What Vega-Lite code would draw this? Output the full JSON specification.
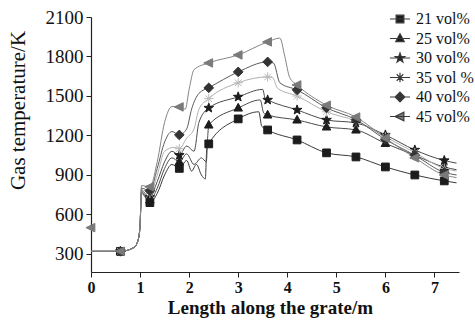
{
  "$schema": "https://vega.github.io/schema/vega-lite/v6.json",
  "autosize": {"type": "none"},
  "width": 368,
  "height": 255,
  "padding": {"left": 91, "top": 17, "right": 16, "bottom": 52},
  "background": "white",
  "config": {
    "view": {"stroke": null},
    "font": "Liberation Serif",
    "axis": {"domainColor": "#222", "tickColor": "#222", "grid": false, "labelColor": "#111", "titleColor": "#111", "labelFont": "Liberation Serif", "titleFont": "Liberation Serif", "domainWidth": 1.2}
  },
  "datasets": {
    "curves": [
      {"s": "21 vol%", "x": 0, "t": 320}, {"s": "21 vol%", "x": 0.6, "t": 320}, {"s": "21 vol%", "x": 0.88, "t": 350}, {"s": "21 vol%", "x": 0.97, "t": 420}, {"s": "21 vol%", "x": 1.0, "t": 520}, {"s": "21 vol%", "x": 1.03, "t": 760},
      {"s": "21 vol%", "x": 1.2, "t": 690}, {"s": "21 vol%", "x": 1.35, "t": 760}, {"s": "21 vol%", "x": 1.5, "t": 900}, {"s": "21 vol%", "x": 1.65, "t": 980}, {"s": "21 vol%", "x": 1.8, "t": 950}, {"s": "21 vol%", "x": 1.95, "t": 1010}, {"s": "21 vol%", "x": 2.05, "t": 930}, {"s": "21 vol%", "x": 2.15, "t": 980}, {"s": "21 vol%", "x": 2.25, "t": 900}, {"s": "21 vol%", "x": 2.33, "t": 870}, {"s": "21 vol%", "x": 2.36, "t": 1100}, {"s": "21 vol%", "x": 2.4, "t": 1136}, {"s": "21 vol%", "x": 3.0, "t": 1326}, {"s": "21 vol%", "x": 3.42, "t": 1380}, {"s": "21 vol%", "x": 3.48, "t": 1270}, {"s": "21 vol%", "x": 3.6, "t": 1242}, {"s": "21 vol%", "x": 4.2, "t": 1166}, {"s": "21 vol%", "x": 4.8, "t": 1068}, {"s": "21 vol%", "x": 5.4, "t": 1037}, {"s": "21 vol%", "x": 6.0, "t": 961}, {"s": "21 vol%", "x": 6.6, "t": 900}, {"s": "21 vol%", "x": 7.2, "t": 855}, {"s": "21 vol%", "x": 7.45, "t": 840},

      {"s": "25 vol%", "x": 0, "t": 320}, {"s": "25 vol%", "x": 0.6, "t": 320}, {"s": "25 vol%", "x": 0.88, "t": 350}, {"s": "25 vol%", "x": 0.97, "t": 420}, {"s": "25 vol%", "x": 1.0, "t": 520}, {"s": "25 vol%", "x": 1.03, "t": 770},
      {"s": "25 vol%", "x": 1.2, "t": 710}, {"s": "25 vol%", "x": 1.35, "t": 800}, {"s": "25 vol%", "x": 1.5, "t": 950}, {"s": "25 vol%", "x": 1.65, "t": 1030}, {"s": "25 vol%", "x": 1.8, "t": 1000}, {"s": "25 vol%", "x": 1.95, "t": 1060}, {"s": "25 vol%", "x": 2.1, "t": 980}, {"s": "25 vol%", "x": 2.25, "t": 1030}, {"s": "25 vol%", "x": 2.35, "t": 1000}, {"s": "25 vol%", "x": 2.38, "t": 1200}, {"s": "25 vol%", "x": 2.4, "t": 1280}, {"s": "25 vol%", "x": 3.0, "t": 1409}, {"s": "25 vol%", "x": 3.45, "t": 1470}, {"s": "25 vol%", "x": 3.52, "t": 1370}, {"s": "25 vol%", "x": 3.6, "t": 1356}, {"s": "25 vol%", "x": 4.2, "t": 1318}, {"s": "25 vol%", "x": 4.8, "t": 1265}, {"s": "25 vol%", "x": 5.4, "t": 1242}, {"s": "25 vol%", "x": 6.0, "t": 1140}, {"s": "25 vol%", "x": 6.6, "t": 1050}, {"s": "25 vol%", "x": 7.2, "t": 960}, {"s": "25 vol%", "x": 7.45, "t": 940},

      {"s": "30 vol%", "x": 0, "t": 320}, {"s": "30 vol%", "x": 0.6, "t": 320}, {"s": "30 vol%", "x": 0.88, "t": 350}, {"s": "30 vol%", "x": 0.97, "t": 420}, {"s": "30 vol%", "x": 1.0, "t": 520}, {"s": "30 vol%", "x": 1.03, "t": 780},
      {"s": "30 vol%", "x": 1.2, "t": 730}, {"s": "30 vol%", "x": 1.35, "t": 850}, {"s": "30 vol%", "x": 1.5, "t": 1000}, {"s": "30 vol%", "x": 1.65, "t": 1080}, {"s": "30 vol%", "x": 1.8, "t": 1050}, {"s": "30 vol%", "x": 1.95, "t": 1120}, {"s": "30 vol%", "x": 2.1, "t": 1080}, {"s": "30 vol%", "x": 2.2, "t": 1300}, {"s": "30 vol%", "x": 2.4, "t": 1409}, {"s": "30 vol%", "x": 3.0, "t": 1493}, {"s": "30 vol%", "x": 3.5, "t": 1550}, {"s": "30 vol%", "x": 3.55, "t": 1480}, {"s": "30 vol%", "x": 3.6, "t": 1470}, {"s": "30 vol%", "x": 4.2, "t": 1394}, {"s": "30 vol%", "x": 4.8, "t": 1318}, {"s": "30 vol%", "x": 5.4, "t": 1295}, {"s": "30 vol%", "x": 6.0, "t": 1204}, {"s": "30 vol%", "x": 6.6, "t": 1090}, {"s": "30 vol%", "x": 7.2, "t": 1010}, {"s": "30 vol%", "x": 7.45, "t": 990},

      {"s": "35 vol %", "x": 0, "t": 320}, {"s": "35 vol %", "x": 0.6, "t": 320}, {"s": "35 vol %", "x": 0.88, "t": 350}, {"s": "35 vol %", "x": 0.97, "t": 420}, {"s": "35 vol %", "x": 1.0, "t": 520}, {"s": "35 vol %", "x": 1.03, "t": 790},
      {"s": "35 vol %", "x": 1.2, "t": 760}, {"s": "35 vol %", "x": 1.35, "t": 900}, {"s": "35 vol %", "x": 1.5, "t": 1080}, {"s": "35 vol %", "x": 1.7, "t": 1110}, {"s": "35 vol %", "x": 1.8, "t": 1100}, {"s": "35 vol %", "x": 1.95, "t": 1180}, {"s": "35 vol %", "x": 2.1, "t": 1250}, {"s": "35 vol %", "x": 2.2, "t": 1400}, {"s": "35 vol %", "x": 2.4, "t": 1480}, {"s": "35 vol %", "x": 3.0, "t": 1600}, {"s": "35 vol %", "x": 3.6, "t": 1645}, {"s": "35 vol %", "x": 3.7, "t": 1640}, {"s": "35 vol %", "x": 3.8, "t": 1560}, {"s": "35 vol %", "x": 4.2, "t": 1500}, {"s": "35 vol %", "x": 4.8, "t": 1380}, {"s": "35 vol %", "x": 5.4, "t": 1310}, {"s": "35 vol %", "x": 6.0, "t": 1190}, {"s": "35 vol %", "x": 6.6, "t": 1070}, {"s": "35 vol %", "x": 7.2, "t": 950}, {"s": "35 vol %", "x": 7.45, "t": 930},

      {"s": "40 vol%", "x": 0, "t": 320}, {"s": "40 vol%", "x": 0.6, "t": 320}, {"s": "40 vol%", "x": 0.88, "t": 350}, {"s": "40 vol%", "x": 0.97, "t": 420}, {"s": "40 vol%", "x": 1.0, "t": 520}, {"s": "40 vol%", "x": 1.03, "t": 800},
      {"s": "40 vol%", "x": 1.2, "t": 780}, {"s": "40 vol%", "x": 1.35, "t": 950}, {"s": "40 vol%", "x": 1.5, "t": 1150}, {"s": "40 vol%", "x": 1.65, "t": 1230}, {"s": "40 vol%", "x": 1.8, "t": 1204}, {"s": "40 vol%", "x": 1.95, "t": 1250}, {"s": "40 vol%", "x": 2.05, "t": 1400}, {"s": "40 vol%", "x": 2.2, "t": 1520}, {"s": "40 vol%", "x": 2.4, "t": 1562}, {"s": "40 vol%", "x": 3.0, "t": 1683}, {"s": "40 vol%", "x": 3.6, "t": 1759}, {"s": "40 vol%", "x": 3.72, "t": 1750}, {"s": "40 vol%", "x": 3.85, "t": 1600}, {"s": "40 vol%", "x": 4.2, "t": 1546}, {"s": "40 vol%", "x": 4.8, "t": 1410}, {"s": "40 vol%", "x": 5.4, "t": 1320}, {"s": "40 vol%", "x": 6.0, "t": 1170}, {"s": "40 vol%", "x": 6.6, "t": 1050}, {"s": "40 vol%", "x": 7.2, "t": 920}, {"s": "40 vol%", "x": 7.45, "t": 900},

      {"s": "45 vol%", "x": 0, "t": 320}, {"s": "45 vol%", "x": 0.6, "t": 320}, {"s": "45 vol%", "x": 0.88, "t": 350}, {"s": "45 vol%", "x": 0.97, "t": 420}, {"s": "45 vol%", "x": 1.0, "t": 520}, {"s": "45 vol%", "x": 1.03, "t": 820},
      {"s": "45 vol%", "x": 1.2, "t": 810}, {"s": "45 vol%", "x": 1.35, "t": 1000}, {"s": "45 vol%", "x": 1.5, "t": 1300}, {"s": "45 vol%", "x": 1.65, "t": 1420}, {"s": "45 vol%", "x": 1.8, "t": 1417}, {"s": "45 vol%", "x": 1.92, "t": 1400}, {"s": "45 vol%", "x": 2.0, "t": 1550}, {"s": "45 vol%", "x": 2.1, "t": 1700}, {"s": "45 vol%", "x": 2.4, "t": 1751}, {"s": "45 vol%", "x": 3.0, "t": 1812}, {"s": "45 vol%", "x": 3.6, "t": 1911}, {"s": "45 vol%", "x": 3.85, "t": 1940}, {"s": "45 vol%", "x": 3.95, "t": 1800}, {"s": "45 vol%", "x": 4.05, "t": 1640}, {"s": "45 vol%", "x": 4.2, "t": 1584}, {"s": "45 vol%", "x": 4.8, "t": 1430}, {"s": "45 vol%", "x": 5.4, "t": 1340}, {"s": "45 vol%", "x": 6.0, "t": 1180}, {"s": "45 vol%", "x": 6.6, "t": 1030}, {"s": "45 vol%", "x": 7.2, "t": 900}, {"s": "45 vol%", "x": 7.45, "t": 880}
    ],
    "markers": [
      {"s": "21 vol%", "x": 0.6, "t": 320}, {"s": "21 vol%", "x": 1.2, "t": 690}, {"s": "21 vol%", "x": 1.8, "t": 950}, {"s": "21 vol%", "x": 2.4, "t": 1136}, {"s": "21 vol%", "x": 3.0, "t": 1326}, {"s": "21 vol%", "x": 3.6, "t": 1242}, {"s": "21 vol%", "x": 4.2, "t": 1166}, {"s": "21 vol%", "x": 4.8, "t": 1068}, {"s": "21 vol%", "x": 5.4, "t": 1037}, {"s": "21 vol%", "x": 6.0, "t": 961}, {"s": "21 vol%", "x": 6.6, "t": 900}, {"s": "21 vol%", "x": 7.2, "t": 855},
      {"s": "25 vol%", "x": 0.6, "t": 320}, {"s": "25 vol%", "x": 1.2, "t": 710}, {"s": "25 vol%", "x": 1.8, "t": 1000}, {"s": "25 vol%", "x": 2.4, "t": 1280}, {"s": "25 vol%", "x": 3.0, "t": 1409}, {"s": "25 vol%", "x": 3.6, "t": 1356}, {"s": "25 vol%", "x": 4.2, "t": 1318}, {"s": "25 vol%", "x": 4.8, "t": 1265}, {"s": "25 vol%", "x": 5.4, "t": 1242}, {"s": "25 vol%", "x": 6.0, "t": 1140}, {"s": "25 vol%", "x": 6.6, "t": 1050}, {"s": "25 vol%", "x": 7.2, "t": 960},
      {"s": "30 vol%", "x": 0.6, "t": 320}, {"s": "30 vol%", "x": 1.2, "t": 730}, {"s": "30 vol%", "x": 1.8, "t": 1050}, {"s": "30 vol%", "x": 2.4, "t": 1409}, {"s": "30 vol%", "x": 3.0, "t": 1493}, {"s": "30 vol%", "x": 3.6, "t": 1470}, {"s": "30 vol%", "x": 4.2, "t": 1394}, {"s": "30 vol%", "x": 4.8, "t": 1318}, {"s": "30 vol%", "x": 5.4, "t": 1295}, {"s": "30 vol%", "x": 6.0, "t": 1204}, {"s": "30 vol%", "x": 6.6, "t": 1090}, {"s": "30 vol%", "x": 7.2, "t": 1010},
      {"s": "35 vol %", "x": 0.6, "t": 320}, {"s": "35 vol %", "x": 1.2, "t": 760}, {"s": "35 vol %", "x": 1.8, "t": 1100}, {"s": "35 vol %", "x": 2.4, "t": 1480}, {"s": "35 vol %", "x": 3.0, "t": 1600}, {"s": "35 vol %", "x": 3.6, "t": 1645}, {"s": "35 vol %", "x": 4.2, "t": 1500}, {"s": "35 vol %", "x": 4.8, "t": 1380}, {"s": "35 vol %", "x": 5.4, "t": 1310}, {"s": "35 vol %", "x": 6.0, "t": 1190}, {"s": "35 vol %", "x": 6.6, "t": 1070}, {"s": "35 vol %", "x": 7.2, "t": 950},
      {"s": "40 vol%", "x": 0.6, "t": 320}, {"s": "40 vol%", "x": 1.2, "t": 780}, {"s": "40 vol%", "x": 1.8, "t": 1204}, {"s": "40 vol%", "x": 2.4, "t": 1562}, {"s": "40 vol%", "x": 3.0, "t": 1683}, {"s": "40 vol%", "x": 3.6, "t": 1759}, {"s": "40 vol%", "x": 4.2, "t": 1546}, {"s": "40 vol%", "x": 4.8, "t": 1410}, {"s": "40 vol%", "x": 5.4, "t": 1320}, {"s": "40 vol%", "x": 6.0, "t": 1170}, {"s": "40 vol%", "x": 6.6, "t": 1050}, {"s": "40 vol%", "x": 7.2, "t": 920},
      {"s": "45 vol%", "x": 0, "t": 500}, {"s": "45 vol%", "x": 0.6, "t": 320}, {"s": "45 vol%", "x": 1.2, "t": 810}, {"s": "45 vol%", "x": 1.8, "t": 1417}, {"s": "45 vol%", "x": 2.4, "t": 1751}, {"s": "45 vol%", "x": 3.0, "t": 1812}, {"s": "45 vol%", "x": 3.6, "t": 1911}, {"s": "45 vol%", "x": 4.2, "t": 1584}, {"s": "45 vol%", "x": 4.8, "t": 1430}, {"s": "45 vol%", "x": 5.4, "t": 1340}, {"s": "45 vol%", "x": 6.0, "t": 1180}, {"s": "45 vol%", "x": 6.6, "t": 1030}, {"s": "45 vol%", "x": 7.2, "t": 900}
    ]
  },
  "resolve": {"scale": {"color": "independent", "shape": "independent", "stroke": "independent"}},
  "layer": [
    {
      "data": {"name": "curves"},
      "mark": {"type": "line", "strokeWidth": 1, "interpolate": "monotone"},
      "encoding": {
        "x": {"field": "x", "type": "quantitative", "scale": {"domain": [0, 7.5], "nice": false, "zero": false},
          "axis": {"values": [0, 0.5, 1, 1.5, 2, 2.5, 3, 3.5, 4, 4.5, 5, 5.5, 6, 6.5, 7, 7.5],
            "labelExpr": "datum.value % 1 === 0 ? format(datum.value, 'd') : ''",
            "tickSize": {"condition": {"test": "datum.value % 1 !== 0", "value": 3}, "value": 5},
            "labelFontSize": 16, "labelFontWeight": "bold", "labelPadding": 2, "labelFlush": false, "labelOverlap": false,
            "title": "Length along the grate/m", "titleFontSize": 19, "titleFontWeight": "bold",
            "titleX": 179, "titleY": 35, "titleBaseline": "middle", "titleAlign": "center"}},
        "y": {"field": "t", "type": "quantitative", "scale": {"domain": [163, 2100], "nice": false, "zero": false},
          "axis": {"values": [300, 600, 900, 1200, 1500, 1800, 2100], "format": "d", "labelFontSize": 19, "labelFontWeight": "normal", "tickSize": 5, "labelPadding": 3,
            "title": "Gas temperature/K", "titleFontSize": 21, "titleFontWeight": "normal",
            "titleX": -73, "titleY": 93, "titleAngle": -90, "titleAlign": "center", "titleBaseline": "middle"}},
        "color": {"field": "s", "type": "nominal", "legend": null,
          "scale": {"domain": ["21 vol%", "25 vol%", "30 vol%", "35 vol %", "40 vol%", "45 vol%"], "range": ["#3a3a3a", "#4a4a4a", "#4a4a4a", "#b0b0b0", "#5a5a5a", "#858585"]}}
      }
    },
    {
      "data": {"name": "markers"},
      "mark": {"type": "point", "filled": true, "size": 60, "opacity": 1, "strokeWidth": 1},
      "encoding": {
        "x": {"field": "x", "type": "quantitative"},
        "y": {"field": "t", "type": "quantitative"},
        "color": {"field": "s", "type": "nominal", "legend": null,
          "scale": {"domain": ["21 vol%", "25 vol%", "30 vol%", "35 vol %", "40 vol%", "45 vol%"], "range": ["#1c1c1c", "#1c1c1c", "#1c1c1c", "#b8b8b8", "#333333", "#7a7a7a"]}},
        "stroke": {"field": "s", "type": "nominal", "legend": null,
          "scale": {"domain": ["21 vol%", "25 vol%", "30 vol%", "35 vol %", "40 vol%", "45 vol%"], "range": ["#1c1c1c", "#1c1c1c", "#1c1c1c", "#b8b8b8", "#333333", "#7a7a7a"]}},
        "shape": {"field": "s", "type": "nominal", "legend": null,
          "scale": {"domain": ["21 vol%", "25 vol%", "30 vol%", "35 vol %", "40 vol%", "45 vol%"],
            "range": ["M-1,-1H1V1H-1Z", "M0,-1.2L1.1,0.8H-1.1Z", "M0,-1.3L0.31,-0.43L1.24,-0.4L0.5,0.16L0.76,1.05L0,0.54L-0.76,1.05L-0.5,0.16L-1.24,-0.4L-0.31,-0.43Z", "M-1.2,0H1.2M0,-1.2V1.2M-0.85,-0.85L0.85,0.85M-0.85,0.85L0.85,-0.85", "M0,-1.25L1.25,0L0,1.25L-1.25,0Z", "M-1.3,0L1,-1.1V1.1Z"]}}
      }
    },
    {
      "data": {"name": "markers"},
      "mark": {"type": "point", "filled": true, "size": 60, "opacity": 0, "stroke": "#3a3a3a", "strokeWidth": 1.2},
      "encoding": {
        "x": {"field": "x", "type": "quantitative"},
        "y": {"field": "t", "type": "quantitative"},
        "color": {"field": "s", "type": "nominal",
          "scale": {"domain": ["21 vol%", "25 vol%", "30 vol%", "35 vol %", "40 vol%", "45 vol%"], "range": ["#1c1c1c", "#1c1c1c", "#1c1c1c", "#b8b8b8", "#333333", "#7a7a7a"]},
          "legend": {"orient": "none", "legendX": 301, "legendY": -6, "title": null, "labelFont": "Liberation Serif", "labelFontSize": 16, "labelColor": "#111", "symbolSize": 60, "rowPadding": 3.5, "labelOffset": 8, "padding": 0, "symbolOpacity": 1, "symbolStrokeWidth": 1.2}},
        "shape": {"field": "s", "type": "nominal",
          "scale": {"domain": ["21 vol%", "25 vol%", "30 vol%", "35 vol %", "40 vol%", "45 vol%"],
            "range": ["M-2.6,0H2.6M-1,-1H1V1H-1Z", "M-2.6,0H2.6M0,-1.2L1.1,0.8H-1.1Z", "M-2.6,0H2.6M0,-1.3L0.31,-0.43L1.24,-0.4L0.5,0.16L0.76,1.05L0,0.54L-0.76,1.05L-0.5,0.16L-1.24,-0.4L-0.31,-0.43Z", "M-2.6,0H2.6M-1.2,0H1.2M0,-1.2V1.2M-0.85,-0.85L0.85,0.85M-0.85,0.85L0.85,-0.85", "M-2.6,0H2.6M0,-1.25L1.25,0L0,1.25L-1.25,0Z", "M-2.6,0H2.6M-1.3,0L1,-1.1V1.1Z"]},
          "legend": {"orient": "none", "legendX": 301, "legendY": -6, "title": null, "labelFont": "Liberation Serif", "labelFontSize": 16, "labelColor": "#111", "symbolSize": 60, "rowPadding": 3.5, "labelOffset": 8, "padding": 0, "symbolOpacity": 1, "symbolStrokeWidth": 1.2}}
      }
    }
  ]
}
